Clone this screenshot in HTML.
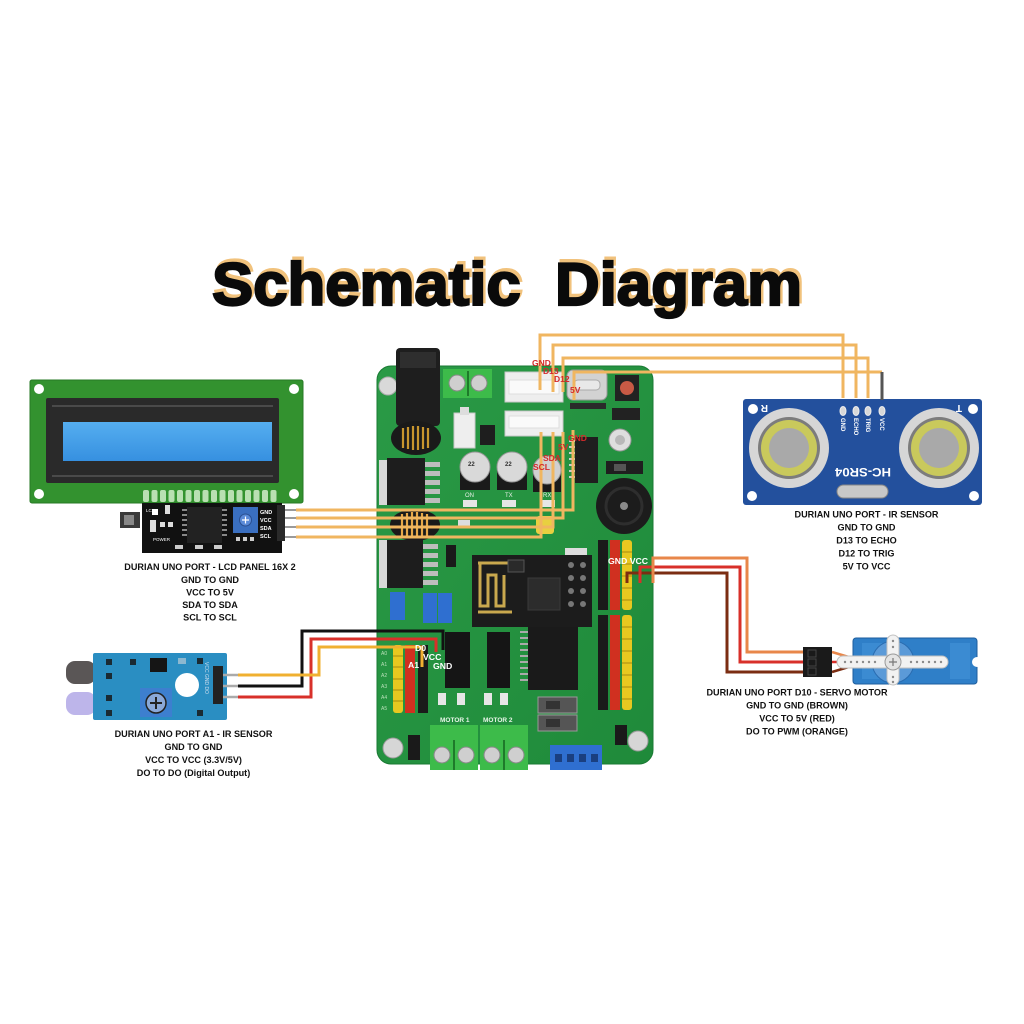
<!DOCTYPE html>
<html><head><meta charset="utf-8"><style>
html,body{margin:0;padding:0;background:#fff;}
svg{display:block;}
text{font-family:"Liberation Sans",sans-serif;}
</style></head><body>
<svg width="1024" height="1024" viewBox="0 0 1024 1024" xmlns="http://www.w3.org/2000/svg">
<defs>
<linearGradient id="scr" x1="0" y1="0" x2="0" y2="1"><stop offset="0" stop-color="#55aef0"/><stop offset="1" stop-color="#3690e0"/></linearGradient>
<linearGradient id="brd" x1="0" y1="0" x2="1" y2="1"><stop offset="0" stop-color="#2a9a46"/><stop offset="1" stop-color="#1f8a3a"/></linearGradient>
</defs>
<rect width="1024" height="1024" fill="#fff"/>

<!-- TITLE -->
<g font-weight="bold" font-size="60">
<text x="214" y="302" textLength="590" lengthAdjust="spacingAndGlyphs" fill="#f1c27c" stroke="#f1c27c" stroke-width="3">Schematic&#160; Diagram</text>
<text x="212" y="305" textLength="590" lengthAdjust="spacingAndGlyphs" fill="#0a0a0a" stroke="#0a0a0a" stroke-width="2.2">Schematic&#160; Diagram</text>
</g>

<!-- LCD MODULE -->
<rect x="30" y="380" width="273" height="123" rx="2" fill="#33922f" stroke="#277a25"/>
<circle cx="39" cy="389" r="5" fill="#fff"/><circle cx="294" cy="389" r="5" fill="#fff"/>
<circle cx="39" cy="494" r="5" fill="#fff"/><circle cx="294" cy="494" r="5" fill="#fff"/>
<rect x="46" y="398" width="233" height="85" rx="2" fill="#2a2a2a"/>
<line x1="52" y1="406" x2="273" y2="406" stroke="#4a4a4a" stroke-width="2"/>
<line x1="52" y1="476" x2="273" y2="476" stroke="#4a4a4a" stroke-width="2"/>
<rect x="63" y="422" width="209" height="39" fill="url(#scr)"/>
<g fill="#b9e0b2">
<rect x="143" y="490" width="6" height="12" rx="2"/><rect x="151.5" y="490" width="6" height="12" rx="2"/><rect x="160" y="490" width="6" height="12" rx="2"/><rect x="168.5" y="490" width="6" height="12" rx="2"/><rect x="177" y="490" width="6" height="12" rx="2"/><rect x="185.5" y="490" width="6" height="12" rx="2"/><rect x="194" y="490" width="6" height="12" rx="2"/><rect x="202.5" y="490" width="6" height="12" rx="2"/><rect x="211" y="490" width="6" height="12" rx="2"/><rect x="219.5" y="490" width="6" height="12" rx="2"/><rect x="228" y="490" width="6" height="12" rx="2"/><rect x="236.5" y="490" width="6" height="12" rx="2"/><rect x="245" y="490" width="6" height="12" rx="2"/><rect x="253.5" y="490" width="6" height="12" rx="2"/><rect x="262" y="490" width="6" height="12" rx="2"/><rect x="270.5" y="490" width="6" height="12" rx="2"/>
</g>
<rect x="142" y="503" width="140" height="50" fill="#111"/>
<rect x="120" y="512" width="20" height="16" fill="#3a3a3a"/><rect x="124" y="515" width="10" height="10" fill="#888"/>
<rect x="152" y="509" width="6" height="6" fill="#fff"/><rect x="165" y="505" width="5" height="9" fill="#ddd"/>
<rect x="150" y="520" width="6" height="12" fill="#ddd"/><rect x="160" y="522" width="5" height="5" fill="#ddd"/><rect x="168" y="522" width="5" height="5" fill="#ddd"/>
<rect x="187" y="507" width="35" height="36" fill="#222"/>
<g fill="#888"><rect x="182" y="509" width="5" height="2"/><rect x="182" y="514" width="5" height="2"/><rect x="182" y="519" width="5" height="2"/><rect x="182" y="524" width="5" height="2"/><rect x="182" y="529" width="5" height="2"/><rect x="182" y="534" width="5" height="2"/><rect x="222" y="509" width="5" height="2"/><rect x="222" y="514" width="5" height="2"/><rect x="222" y="519" width="5" height="2"/><rect x="222" y="524" width="5" height="2"/><rect x="222" y="529" width="5" height="2"/><rect x="222" y="534" width="5" height="2"/></g>
<g fill="#ccc"><rect x="175" y="545" width="8" height="4"/><rect x="195" y="545" width="8" height="4"/><rect x="214" y="545" width="8" height="4"/><rect x="236" y="537" width="4" height="4"/><rect x="243" y="537" width="4" height="4"/><rect x="250" y="537" width="4" height="4"/></g>
<rect x="233" y="507" width="25" height="26" fill="#3a6fc0"/>
<circle cx="245.5" cy="520" r="6" fill="#5b8bd8" stroke="#2a4f90"/>
<path d="M242,520 H249 M245.5,516.5 V523.5" stroke="#fff" stroke-width="1.2"/>
<g fill="#fff" font-size="5.5" font-weight="bold"><text x="260" y="514">GND</text><text x="260" y="522">VCC</text><text x="260" y="530">SDA</text><text x="260" y="538">SCL</text></g>
<text x="146" y="512" fill="#fff" font-size="4.5">LCD</text>
<text x="153" y="541" fill="#fff" font-size="4.5">POWER</text>
<rect x="277" y="505" width="8" height="36" fill="#2a2a2a"/>
<g stroke="#9a9a9a" stroke-width="2"><line x1="285" y1="510" x2="296" y2="510"/><line x1="285" y1="518" x2="296" y2="518"/><line x1="285" y1="527" x2="296" y2="527"/><line x1="285" y1="537" x2="296" y2="537"/></g>

<!-- ULTRASONIC -->
<rect x="743" y="399" width="239" height="106" rx="3" fill="#23509d"/>
<circle cx="753" cy="409" r="5" fill="#fff"/><circle cx="973" cy="409" r="5" fill="#fff"/>
<circle cx="752" cy="496" r="5" fill="#fff"/><circle cx="974" cy="496" r="5" fill="#fff"/>
<circle cx="789" cy="448" r="40" fill="#d6d6d6"/><circle cx="789" cy="448" r="31" fill="#7c7c7c"/><circle cx="789" cy="448" r="28" fill="#c9c95c"/><circle cx="789" cy="448" r="20" fill="#a9a9a9"/>
<circle cx="939" cy="448" r="40" fill="#d6d6d6"/><circle cx="939" cy="448" r="31" fill="#7c7c7c"/><circle cx="939" cy="448" r="28" fill="#c9c95c"/><circle cx="939" cy="448" r="20" fill="#a9a9a9"/>
<g fill="#d8d8d8" stroke="#eee"><ellipse cx="843" cy="411" rx="3" ry="4.5"/><ellipse cx="856" cy="411" rx="3" ry="4.5"/><ellipse cx="868" cy="411" rx="3" ry="4.5"/><ellipse cx="882" cy="411" rx="3" ry="4.5"/></g>
<g fill="#fff" font-size="6" font-weight="bold">
<text transform="translate(841,418) rotate(90)">GND</text>
<text transform="translate(854,418) rotate(90)">ECHO</text>
<text transform="translate(866,418) rotate(90)">TRIG</text>
<text transform="translate(880,418) rotate(90)">VCC</text>
</g>
<text transform="translate(863,471) rotate(180)" text-anchor="middle" dominant-baseline="middle" fill="#fff" font-family="Liberation Mono, monospace" font-weight="bold" font-size="12" textLength="56" lengthAdjust="spacingAndGlyphs">HC-SR04</text>
<rect x="837" y="485" width="51" height="13" rx="6.5" fill="#c8c8c8" stroke="#888"/>
<text transform="translate(768,405) rotate(180)" fill="#fff" font-size="10" font-weight="bold">R</text>
<text transform="translate(962,405) rotate(180)" fill="#fff" font-size="10" font-weight="bold">T</text>

<!-- SERVO -->
<rect x="853" y="638" width="124" height="46" rx="3" fill="#2f7fc8" stroke="#1e5e9e"/>
<rect x="862" y="643" width="20" height="36" fill="#3b8bd2"/>
<rect x="950" y="643" width="20" height="36" fill="#3b8bd2"/>
<circle cx="977" cy="662" r="5" fill="#fff"/>
<circle cx="893" cy="662" r="21" fill="#5b9ad8" stroke="#2a6cb0"/>
<g stroke="#1a1a1a" stroke-width="2.5"><line x1="832" y1="652" x2="852" y2="658" stroke="#e8874a"/><line x1="832" y1="662" x2="852" y2="662" stroke="#d8302a"/><line x1="832" y1="672" x2="852" y2="666" stroke="#7b2d12"/></g>
<rect x="837" y="656" width="111" height="12" rx="6" fill="#f2f2f2" stroke="#c0c0c0"/>
<rect x="887" y="635" width="12" height="50" rx="6" fill="#f2f2f2" stroke="#c0c0c0"/>
<g fill="#8a8a8a"><circle cx="845" cy="662" r="1.2"/><circle cx="851" cy="662" r="1.2"/><circle cx="857" cy="662" r="1.2"/><circle cx="863" cy="662" r="1.2"/><circle cx="869" cy="662" r="1.2"/><circle cx="875" cy="662" r="1.2"/><circle cx="911" cy="662" r="1.2"/><circle cx="917" cy="662" r="1.2"/><circle cx="923" cy="662" r="1.2"/><circle cx="929" cy="662" r="1.2"/><circle cx="935" cy="662" r="1.2"/><circle cx="941" cy="662" r="1.2"/><circle cx="893" cy="641" r="1.2"/><circle cx="893" cy="647" r="1.2"/><circle cx="893" cy="677" r="1.2"/><circle cx="893" cy="682" r="1.2"/></g>
<circle cx="893" cy="662" r="8" fill="#e4e4e4" stroke="#999"/>
<path d="M889,662 H897 M893,658 V666" stroke="#777" stroke-width="1.2"/>
<rect x="803" y="647" width="29" height="30" fill="#1a1a1a"/>
<g fill="none" stroke="#444"><rect x="808" y="650" width="8" height="7"/><rect x="808" y="659" width="8" height="7"/><rect x="808" y="668" width="8" height="7"/></g>

<!-- IR SENSOR -->
<rect x="66" y="661" width="30" height="23" rx="9" fill="#5a5656"/>
<rect x="66" y="692" width="30" height="23" rx="9" fill="#bdb5ea"/>
<rect x="93" y="653" width="134" height="67" rx="2" fill="#2a8ec2"/>
<g fill="#1a2a33"><rect x="106" y="659" width="6" height="6"/><rect x="106" y="673" width="6" height="6"/><rect x="106" y="695" width="6" height="6"/><rect x="106" y="710" width="6" height="6"/><rect x="197" y="658" width="6" height="6"/><rect x="197" y="710" width="6" height="6"/><rect x="130" y="659" width="6" height="6"/></g>
<rect x="150" y="658" width="17" height="14" fill="#151515"/>
<rect x="178" y="658" width="8" height="6" fill="#8cb8d0"/>
<circle cx="187" cy="685" r="12" fill="#fff"/>
<rect x="140" y="688" width="32" height="29" fill="#3d7fcf"/>
<circle cx="156" cy="703" r="10" fill="#8aa8d8" stroke="#222" stroke-width="1.5"/>
<path d="M150,703 H162 M156,697 V709" stroke="#222" stroke-width="2"/>
<rect x="213" y="666" width="10" height="38" fill="#222"/>
<g stroke="#aaa" stroke-width="2.5"><line x1="223" y1="675" x2="238" y2="675"/><line x1="223" y1="686" x2="238" y2="686"/><line x1="223" y1="697" x2="238" y2="697"/></g>
<text transform="translate(205,662) rotate(90)" fill="#cde" font-size="5">VCC GND DO</text>

<!-- MAIN BOARD -->
<rect x="377" y="366" width="276" height="398" rx="14" fill="url(#brd)" stroke="#1a7a33"/>
<circle cx="388" cy="386" r="9" fill="#d9d9d9" stroke="#aaa"/>
<rect x="396" y="348" width="44" height="78" rx="4" fill="#1e1e1e"/>
<rect x="400" y="352" width="36" height="16" fill="#2e2e2e"/>
<ellipse cx="416" cy="438" rx="25" ry="17" fill="#1a1a1a"/>
<g stroke="#c8962e" stroke-width="2.2"><line x1="403" y1="428" x2="403" y2="448"/><line x1="408" y1="427" x2="408" y2="449"/><line x1="413" y1="426" x2="413" y2="450"/><line x1="418" y1="426" x2="418" y2="450"/><line x1="423" y1="427" x2="423" y2="449"/><line x1="428" y1="428" x2="428" y2="448"/></g>
<rect x="443" y="369" width="49" height="29" fill="#3dbb4a"/>
<circle cx="457" cy="383" r="8" fill="#cfcfcf" stroke="#888"/><circle cx="479" cy="383" r="8" fill="#cfcfcf" stroke="#888"/>
<line x1="468" y1="371" x2="468" y2="396" stroke="#1e7a2a" stroke-width="2"/>
<rect x="505" y="372" width="58" height="30" fill="#eeeeee" stroke="#c8c8c8"/>
<rect x="509" y="380" width="50" height="14" fill="#fafafa" stroke="#ddd"/>
<rect x="505" y="411" width="58" height="25" fill="#eeeeee" stroke="#c8c8c8"/>
<rect x="509" y="416" width="50" height="12" fill="#fafafa" stroke="#ddd"/>
<rect x="454" y="413" width="21" height="35" fill="#eeeeee" stroke="#c8c8c8"/>
<rect x="460" y="407" width="9" height="8" fill="#ddd"/>
<rect x="480" y="425" width="15" height="20" fill="#1e1e1e"/>
<rect x="567" y="370" width="40" height="30" rx="6" fill="#d2d2d2" stroke="#999"/>
<rect x="574" y="380" width="26" height="10" rx="4" fill="#e8e8e8" stroke="#aaa"/>
<rect x="570" y="403" width="36" height="6" fill="#2a2a2a"/>
<rect x="615" y="375" width="24" height="26" fill="#222"/>
<circle cx="627" cy="388" r="7" fill="#c85a45"/>
<rect x="612" y="408" width="28" height="12" fill="#222"/>
<circle cx="620" cy="440" r="11" fill="#dedede" stroke="#999"/><circle cx="620" cy="440" r="5" fill="#b8b8b8"/>
<rect x="575" y="437" width="23" height="46" fill="#1f1f1f"/>
<g fill="#ccc"><rect x="569" y="440" width="6" height="2"/><rect x="569" y="446" width="6" height="2"/><rect x="569" y="452" width="6" height="2"/><rect x="569" y="458" width="6" height="2"/><rect x="569" y="464" width="6" height="2"/><rect x="569" y="470" width="6" height="2"/><rect x="569" y="476" width="6" height="2"/></g>
<rect x="606" y="461" width="37" height="13" fill="#1f1f1f"/><rect x="614" y="464" width="12" height="7" fill="#555"/>
<circle cx="624" cy="506" r="28" fill="#1c1c1c"/><circle cx="624" cy="506" r="18" fill="none" stroke="#2e2e2e" stroke-width="3"/><circle cx="624" cy="506" r="4" fill="#8a8a8a"/>
<rect x="460" y="470" width="30" height="20" fill="#1a1a1a"/><circle cx="475" cy="467" r="15" fill="#d9d9d9" stroke="#999"/>
<rect x="497" y="470" width="30" height="20" fill="#1a1a1a"/><circle cx="512" cy="467" r="15" fill="#d9d9d9" stroke="#999"/>
<rect x="533" y="472" width="28" height="20" fill="#1a1a1a"/><circle cx="547" cy="470" r="14" fill="#d0d0d0" stroke="#999"/>
<g fill="#333" font-size="6" font-weight="bold"><text x="468" y="466">22</text><text x="505" y="466">22</text></g>
<rect x="379" y="460" width="8" height="45" fill="#d8d8d8"/>
<rect x="387" y="458" width="38" height="47" fill="#1d1d1d"/>
<g fill="#bdbdbd"><rect x="425" y="462" width="15" height="5"/><rect x="425" y="471" width="15" height="5"/><rect x="425" y="480" width="15" height="5"/><rect x="425" y="489" width="15" height="5"/><rect x="425" y="498" width="15" height="5"/></g>
<g fill="#e6e6e6"><rect x="463" y="500" width="14" height="7"/><rect x="502" y="500" width="14" height="7"/><rect x="541" y="500" width="14" height="7"/></g>
<g fill="#e8f0e8" font-size="6"><text x="465" y="497">ON</text><text x="505" y="497">TX</text><text x="543" y="497">RX</text></g>
<ellipse cx="415" cy="525" rx="25" ry="16" fill="#1a1a1a"/>
<g stroke="#e8a848" stroke-width="2.2"><line x1="402" y1="514" x2="402" y2="536"/><line x1="407" y1="513" x2="407" y2="537"/><line x1="412" y1="512" x2="412" y2="538"/><line x1="417" y1="512" x2="417" y2="538"/><line x1="422" y1="513" x2="422" y2="537"/><line x1="427" y1="514" x2="427" y2="536"/></g>
<rect x="458" y="520" width="12" height="8" fill="#ddd"/>
<rect x="379" y="540" width="8" height="48" fill="#d8d8d8"/>
<rect x="387" y="540" width="36" height="48" fill="#1d1d1d"/>
<g fill="#bdbdbd"><rect x="423" y="544" width="15" height="5"/><rect x="423" y="553" width="15" height="5"/><rect x="423" y="562" width="15" height="5"/><rect x="423" y="571" width="15" height="5"/><rect x="423" y="580" width="15" height="5"/></g>
<rect x="446" y="545" width="10" height="22" fill="#1a1a1a"/>
<rect x="536" y="516" width="18" height="18" rx="3" fill="#e8d040"/>
<rect x="565" y="548" width="22" height="8" fill="#ddd"/>
<g fill="#2f6fd0"><rect x="390" y="592" width="15" height="28"/><rect x="423" y="593" width="14" height="30"/><rect x="438" y="593" width="14" height="30"/></g>
<rect x="472" y="555" width="120" height="72" fill="#1c1c1c"/>
<path d="M478,563 H508 M480,563 V606 H488 V575 H496 V606 H504 V575 M478,612 H512" fill="none" stroke="#c9a84e" stroke-width="3"/>
<rect x="508" y="560" width="16" height="12" fill="#2a2a2a" stroke="#555"/>
<rect x="528" y="578" width="32" height="32" fill="#2c2c2c" stroke="#3a3a3a"/>
<g fill="#777"><circle cx="571" cy="565" r="3"/><circle cx="583" cy="565" r="3"/><circle cx="571" cy="578" r="3"/><circle cx="583" cy="578" r="3"/><circle cx="571" cy="591" r="3"/><circle cx="583" cy="591" r="3"/><circle cx="571" cy="604" r="3"/><circle cx="583" cy="604" r="3"/></g>
<rect x="528" y="627" width="50" height="63" fill="#1a1a1a"/>
<g fill="#aaa"><rect x="520" y="631" width="8" height="2"/><rect x="520" y="637" width="8" height="2"/><rect x="520" y="643" width="8" height="2"/><rect x="520" y="649" width="8" height="2"/><rect x="520" y="655" width="8" height="2"/><rect x="520" y="661" width="8" height="2"/><rect x="520" y="667" width="8" height="2"/><rect x="520" y="673" width="8" height="2"/><rect x="520" y="679" width="8" height="2"/></g>
<rect x="445" y="632" width="25" height="56" fill="#151515"/>
<rect x="487" y="632" width="23" height="56" fill="#151515"/>
<g fill="#e6e6e6"><rect x="438" y="693" width="8" height="12"/><rect x="457" y="693" width="8" height="12"/><rect x="484" y="693" width="8" height="12"/><rect x="500" y="693" width="8" height="12"/></g>
<g fill="#e8c820"><rect x="393" y="645" width="10" height="68" rx="3"/></g>
<rect x="405" y="645" width="10" height="68" fill="#d03020"/>
<rect x="418" y="645" width="10" height="68" fill="#1a1a1a"/>
<g stroke="#a88a10" stroke-width="1"><line x1="393" y1="656" x2="403" y2="656"/><line x1="393" y1="667" x2="403" y2="667"/><line x1="393" y1="679" x2="403" y2="679"/><line x1="393" y1="690" x2="403" y2="690"/><line x1="393" y1="701" x2="403" y2="701"/></g>
<g fill="#b8e0b8" font-size="5"><text x="381" y="655">A0</text><text x="381" y="666">A1</text><text x="381" y="677">A2</text><text x="381" y="688">A3</text><text x="381" y="699">A4</text><text x="381" y="710">A5</text></g>
<rect x="598" y="540" width="10" height="70" fill="#1a1a1a"/><rect x="610" y="540" width="10" height="70" fill="#d03020"/><rect x="622" y="540" width="10" height="70" rx="3" fill="#e8c820"/>
<rect x="598" y="615" width="10" height="95" fill="#1a1a1a"/><rect x="610" y="615" width="10" height="95" fill="#d03020"/><rect x="622" y="615" width="10" height="95" rx="3" fill="#e8c820"/>
<g stroke="#a88a10" stroke-width="1"><line x1="622" y1="552" x2="632" y2="552"/><line x1="622" y1="564" x2="632" y2="564"/><line x1="622" y1="576" x2="632" y2="576"/><line x1="622" y1="588" x2="632" y2="588"/><line x1="622" y1="600" x2="632" y2="600"/><line x1="622" y1="627" x2="632" y2="627"/><line x1="622" y1="639" x2="632" y2="639"/><line x1="622" y1="651" x2="632" y2="651"/><line x1="622" y1="663" x2="632" y2="663"/><line x1="622" y1="675" x2="632" y2="675"/><line x1="622" y1="687" x2="632" y2="687"/><line x1="622" y1="699" x2="632" y2="699"/></g>
<rect x="538" y="697" width="39" height="16" fill="#555" stroke="#999"/><rect x="546" y="701" width="14" height="8" fill="#333"/>
<rect x="538" y="715" width="39" height="16" fill="#555" stroke="#999"/><rect x="546" y="719" width="14" height="8" fill="#333"/>
<circle cx="393" cy="748" r="10" fill="#d6d6d6" stroke="#999"/>
<circle cx="638" cy="741" r="10" fill="#d6d6d6" stroke="#999"/>
<rect x="408" y="735" width="12" height="25" fill="#1a1a1a"/>
<rect x="615" y="725" width="12" height="20" fill="#1a1a1a"/>
<g fill="#e8f5e8" font-size="6.5" font-weight="bold"><text x="440" y="722">MOTOR 1</text><text x="483" y="722">MOTOR 2</text></g>
<rect x="430" y="725" width="48" height="45" fill="#3dbb4a"/><line x1="454" y1="740" x2="454" y2="770" stroke="#1e7a2a" stroke-width="2"/>
<circle cx="442" cy="755" r="8" fill="#cfcfcf" stroke="#888"/><circle cx="466" cy="755" r="8" fill="#cfcfcf" stroke="#888"/>
<rect x="480" y="725" width="48" height="45" fill="#3dbb4a"/><line x1="504" y1="740" x2="504" y2="770" stroke="#1e7a2a" stroke-width="2"/>
<circle cx="492" cy="755" r="8" fill="#cfcfcf" stroke="#888"/><circle cx="516" cy="755" r="8" fill="#cfcfcf" stroke="#888"/>
<rect x="550" y="745" width="52" height="25" fill="#2f6fd0"/>
<g fill="#1a3f80"><rect x="555" y="754" width="7" height="8"/><rect x="567" y="754" width="7" height="8"/><rect x="579" y="754" width="7" height="8"/><rect x="591" y="754" width="7" height="8"/></g>

<!-- WIRES: ultrasonic -->
<g fill="none" stroke="#f0b660" stroke-width="3">
<path d="M540,390 V335 H843 V398"/>
<path d="M553,392 V345 H856 V398"/>
<path d="M563,392 V358 H868 V398"/>
<path d="M574,400 V372 H882"/>
</g>
<line x1="882" y1="372" x2="882" y2="400" stroke="#555" stroke-width="3"/>
<!-- WIRES: LCD -->
<g fill="none" stroke="#f0b660" stroke-width="3">
<path d="M296,510 H573 V430"/>
<path d="M296,518 H563 V432"/>
<path d="M296,527 H553 V432"/>
<path d="M296,537 H541 V432"/>
</g>
<!-- WIRES: servo -->
<g fill="none" stroke-width="3">
<path d="M627,583 V573 H727 V672 H803" stroke="#7b2d12"/>
<path d="M640,583 V567 H740 V662 H803" stroke="#d8302a"/>
<path d="M653,583 V558 H747 V652 H803" stroke="#e8874a"/>
</g>
<!-- WIRES: IR -->
<g fill="none" stroke-width="3">
<path d="M238,686 H302 V631 H443 V650" stroke="#111"/>
<path d="M238,697 H311 V639 H436 V652" stroke="#d8302a"/>
<path d="M238,675 H319 V647 H422 V667" stroke="#f0b030"/>
</g>

<!-- BOARD LABELS -->
<g font-weight="bold" font-size="8.5" fill="#d42a2a">
<text x="532" y="366">GND</text>
<text x="543" y="374">D13</text>
<text x="554" y="382">D12</text>
<text x="570" y="393">5V</text>
<text x="568" y="441">GND</text>
<text x="558" y="450">5V</text>
<text x="543" y="461">SDA</text>
<text x="533" y="470">SCL</text>
</g>
<g font-weight="bold" font-size="8.7" fill="#fff">
<text x="608" y="564">GND VCC</text>
<text x="415" y="651">D0</text>
<text x="423" y="660">VCC</text>
<text x="433" y="669">GND</text>
<text x="408" y="668">A1</text>
</g>

<!-- CAPTIONS -->
<g font-weight="bold" font-size="9.1" fill="#111" text-anchor="middle">
<text x="210" y="570">DURIAN UNO PORT - LCD PANEL 16X 2</text>
<text x="210" y="583">GND TO GND</text>
<text x="210" y="595.5">VCC TO 5V</text>
<text x="210" y="608">SDA TO SDA</text>
<text x="210" y="620.5">SCL TO SCL</text>

<text x="866.5" y="517.5">DURIAN UNO PORT - IR SENSOR</text>
<text x="866.5" y="530.5">GND TO GND</text>
<text x="866.5" y="543.5">D13 TO ECHO</text>
<text x="866.5" y="556.5">D12 TO TRIG</text>
<text x="866.5" y="569.5">5V TO VCC</text>

<text x="797" y="695.5">DURIAN UNO PORT D10 - SERVO MOTOR</text>
<text x="797" y="708.5">GND TO GND (BROWN)</text>
<text x="797" y="721.5">VCC TO 5V (RED)</text>
<text x="797" y="734.5">DO TO PWM (ORANGE)</text>

<text x="193.5" y="737">DURIAN UNO PORT A1 - IR SENSOR</text>
<text x="193.5" y="750">GND TO GND</text>
<text x="193.5" y="763">VCC TO VCC (3.3V/5V)</text>
<text x="193.5" y="776">DO TO DO (Digital Output)</text>
</g>
</svg>
</body></html>
